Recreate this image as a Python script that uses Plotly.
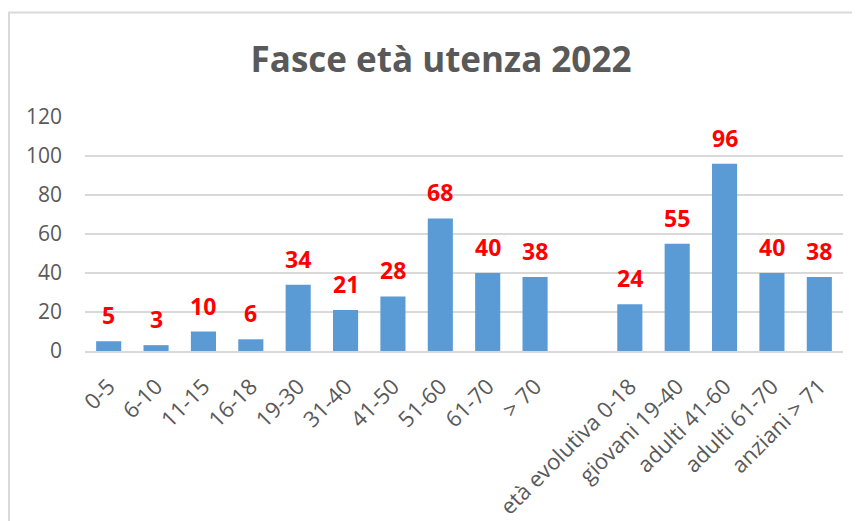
import plotly.graph_objects as go

# Data
detail_labels = ["0-5", "6-10", "11-15", "16-18", "19-30", "31-40", "41-50", "51-60", "61-70", "> 70"]
detail_values = [5, 3, 10, 6, 34, 21, 28, 68, 40, 38]
group_labels = ["età evolutiva 0-18", "giovani 19-40", "adulti 41-60", "adulti 61-70", "anziani > 71"]
group_values = [24, 55, 96, 40, 38]
title_text = "Fasce età utenza 2022"
y_ticks = [0, 20, 40, 60, 80, 100, 120]

gap = " "
labels = detail_labels + [gap] + group_labels
values = detail_values + [None] + group_values

FONT = "Open Sans"
GRAY = "#595959"

W, H = 852, 513
L, T, R, B = 77, 109, 17, 170
PW, PH = W - L - R, H - T - B

fig = go.Figure()
fig.add_trace(go.Bar(
    x=labels, y=values,
    marker=dict(color="#5B9BD5", line=dict(width=0)),
    width=0.53,
    hoverinfo="x+y",
))

annotations = []
for lab, v in zip(labels, values):
    if v is None:
        continue
    annotations.append(dict(
        x=lab, y=v, xref="x", yref="y", text=str(v), showarrow=False,
        yanchor="middle", yshift=26,
        font=dict(family=FONT, size=23, color="#FF0000", weight="bold"),
    ))

fig.update_layout(
    width=W, height=H,
    margin=dict(l=L, r=R, t=T, b=B),
    paper_bgcolor="white", plot_bgcolor="white",
    showlegend=False,
    title=dict(text=title_text, x=433/W, xanchor="center", y=1-52/H, yanchor="middle",
               font=dict(family=FONT, size=35, color=GRAY, weight="bold")),
    annotations=annotations,
    shapes=[dict(type="rect", xref="paper", yref="paper",
                 x0=(1-L)/PW, x1=1.1, y0=-1.0, y1=(PH+T-4.5)/PH,
                 line=dict(color="#D9D9D9", width=2), layer="below")],
)
fig.update_xaxes(
    type="category", categoryorder="array", categoryarray=labels,
    range=[-0.5, len(labels)-0.5],
    tickangle=-45, showgrid=False, showline=True, linecolor="#D9D9D9", linewidth=2,
    ticks="", ticklabelstandoff=12,
    tickfont=dict(family=FONT, size=22, color=GRAY), automargin=False,
)
fig.update_yaxes(
    range=[0, 120], tickvals=y_ticks, showgrid=True, gridcolor="#D9D9D9", gridwidth=1.5,
    zeroline=False, showline=False, ticks="", ticklabelstandoff=22,
    tickfont=dict(family=FONT, size=21, color=GRAY), automargin=False,
)

fig.write_html("out.html")
